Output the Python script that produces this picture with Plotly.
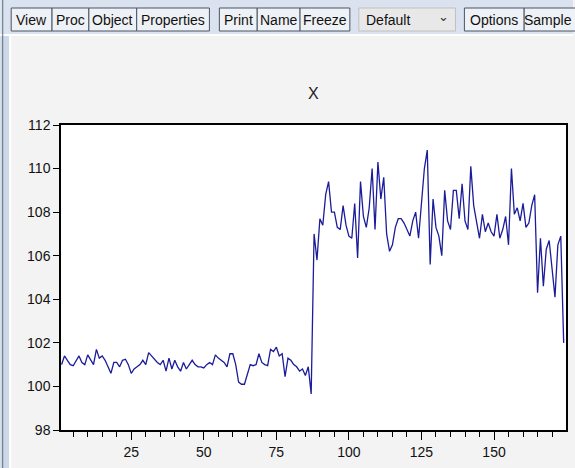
import plotly.graph_objects as go

# observations 1..174 of series X
obs = list(range(1, 175))
x_values = [
    101.0, 101.4, 101.2, 101.0, 100.95, 101.2, 101.4, 101.1, 101.0, 101.45,
    101.2, 101.0, 101.7, 101.3, 101.4, 101.2, 100.9, 100.6, 101.1, 101.1,
    100.9, 101.2, 101.25, 101.0, 100.6, 100.8, 100.9, 101.0, 101.2, 101.0,
    101.55, 101.4, 101.2, 101.1, 101.0, 101.2, 100.7, 101.3, 100.8, 101.2,
    100.9, 100.7, 101.1, 100.8, 101.0, 101.2, 101.0, 100.9, 100.9, 100.85,
    101.0, 101.1, 101.0, 101.45, 101.3, 101.2, 101.1, 100.9, 101.5, 101.5,
    101.0, 100.2, 100.1, 100.1, 100.5, 101.0, 100.95, 101.0, 101.5, 101.1,
    101.0, 100.95, 101.7, 101.6, 101.8, 101.4, 101.5, 100.45, 101.3, 101.2,
    101.0, 100.9, 100.7, 100.8, 100.5, 100.9, 99.65, 107.0, 105.8, 107.7,
    107.4, 108.8, 109.4, 108.0, 108.0, 107.3, 107.2, 108.3, 107.4, 106.9,
    106.8, 108.4, 105.9, 109.4, 107.8, 107.3, 108.2, 110.0, 107.2, 110.3,
    108.6, 109.6, 107.0, 106.2, 106.5, 107.3, 107.7, 107.7, 107.5, 107.2,
    106.9, 107.6, 108.0, 106.8, 108.5, 110.0, 110.85, 105.6, 108.6, 107.3,
    106.9, 106.0, 109.0, 107.6, 107.2, 109.0, 109.0, 107.7, 109.3, 107.6,
    107.2, 110.1, 108.3, 107.6, 106.8, 107.9, 107.1, 107.5, 107.1, 106.9,
    107.9, 106.8, 107.2, 107.8, 106.5, 110.0, 107.9, 108.2, 107.6, 108.4,
    107.3, 107.5, 108.3, 108.8, 104.3, 106.8, 104.6, 106.3, 106.7, 105.4,
    104.1, 106.5, 106.9, 102.0,
]
x_ticks = [25, 50, 75, 100, 125, 150]
y_ticks = [98, 100, 102, 104, 106, 108, 110, 112]
buttons = [("View", 11, 52), ("Proc", 52, 89), ("Object", 89, 137),
           ("Properties", 137, 210), ("Print", 220, 258), ("Name", 258, 301),
           ("Freeze", 301, 351), ("Options", 466, 526), ("Sample", 526, 580)]

W, H = 575, 468
L, R, T, B = 61, 568, 125, 430


def px(x):
    return (x - L) / (R - L)


def py(y):
    return (B - y) / (B - T)


fig = go.Figure()
fig.add_trace(go.Scatter(x=obs, y=x_values, mode="lines",
                         line=dict(color="#1c1c9a", width=1.3),
                         showlegend=False))

shapes = []
annotations = []

# window chrome: toolbar strip, left border
shapes.append(dict(type="rect", xref="paper", yref="paper", layer="below",
                   x0=px(0), x1=px(W), y0=py(0), y1=py(34),
                   fillcolor="#d9e2ee", line=dict(width=0)))
shapes.append(dict(type="line", xref="paper", yref="paper",
                   x0=px(0), x1=px(W), y0=py(35), y1=py(35),
                   line=dict(color="#ffffff", width=2)))
shapes.append(dict(type="rect", xref="paper", yref="paper", layer="below",
                   x0=px(0), x1=px(9), y0=py(34), y1=py(H),
                   fillcolor="#cdd9e8", line=dict(width=0)))
shapes.append(dict(type="line", xref="paper", yref="paper",
                   x0=px(2.5), x1=px(2.5), y0=py(0), y1=py(H),
                   line=dict(color="#5d6b7c", width=1)))
shapes.append(dict(type="line", xref="paper", yref="paper",
                   x0=px(10), x1=px(10), y0=py(35), y1=py(H),
                   line=dict(color="#ffffff", width=2)))

for label, a, b in buttons:
    shapes.append(dict(type="rect", xref="paper", yref="paper",
                       x0=px(a), x1=px(b), y0=py(8), y1=py(31),
                       fillcolor="#eef1f5", line=dict(color="#4a5563", width=1)))
    cx = (a + b) / 2 if b <= W else 550
    annotations.append(dict(text=label, xref="paper", yref="paper",
                            x=px(cx), y=py(19.5), showarrow=False,
                            xanchor="center", yanchor="middle",
                            font=dict(family="Liberation Sans", size=14, color="#111")))

# "Default" dropdown
shapes.append(dict(type="rect", xref="paper", yref="paper",
                   x0=px(360), x1=px(457), y0=py(8), y1=py(31),
                   fillcolor="#e8e8e8", line=dict(color="#c0c0c0", width=1)))
annotations.append(dict(text="Default", xref="paper", yref="paper",
                        x=px(365), y=py(19.5), showarrow=False,
                        xanchor="left", yanchor="middle",
                        font=dict(family="Liberation Sans Narrow, Liberation Sans", size=14, color="#111")))
annotations.append(dict(text="⌄", xref="paper", yref="paper",
                        x=px(445), y=py(16), showarrow=False,
                        xanchor="center", yanchor="middle",
                        font=dict(family="DejaVu Sans", size=13, color="#333")))

annotations.append(dict(text="X", xref="paper", yref="paper",
                        x=px(314), y=py(93), showarrow=False,
                        xanchor="center", yanchor="middle",
                        font=dict(family="Liberation Sans", size=16, color="#222")))

fig.update_layout(
    width=W, height=H,
    margin=dict(l=L, r=W - R, t=T, b=H - B),
    paper_bgcolor="#f3f3f3", plot_bgcolor="white",
    shapes=shapes, annotations=annotations,
    font=dict(family="Liberation Sans", size=14, color="#111"),
)
fig.update_xaxes(range=[0.8, 174.8], tickvals=x_ticks, ticks="outside",
                 ticklen=8, tickcolor="black", showline=True, mirror=True,
                 linecolor="black", linewidth=1.5, showgrid=False, zeroline=False,
                 minor=dict(dtick=5, tick0=0, ticks="outside", ticklen=5,
                            tickcolor="black"))
fig.update_yaxes(range=[98, 112], tickvals=y_ticks, ticks="outside",
                 ticklen=6, tickcolor="black", showline=True, mirror=True,
                 linecolor="black", linewidth=1.5, showgrid=False, zeroline=False)

fig.write_html("out.html", config={"displayModeBar": False},
               post_script="document.body.style.margin='0';")
